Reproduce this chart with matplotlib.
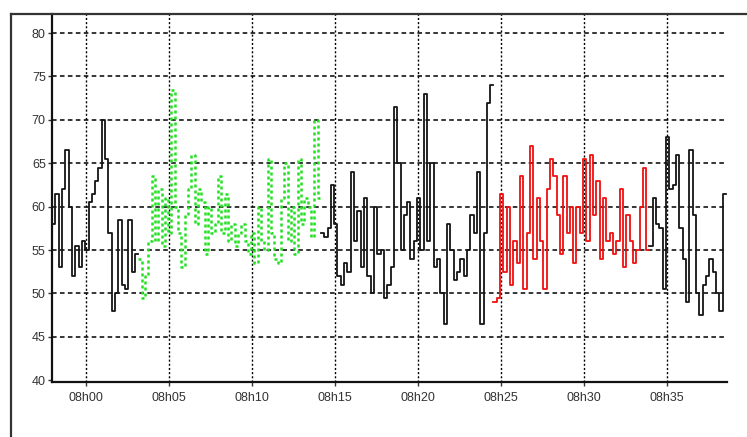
"""Recorded signal 07h58-08h38, three black stretches with a green and a red section."""

import matplotlib

matplotlib.use("Agg")
import matplotlib.pyplot as plt
import numpy as np
from matplotlib.lines import Line2D

# minutes after 08h00, values sampled every 0.2 min
STEP = 0.2

black1_start = -2.05
black1 = [58, 61.5, 53, 62, 66.5, 60, 52, 55.5, 53, 56, 55, 60.5, 61.5, 63,
          64.5, 70, 65.5, 57, 48, 50, 58.5, 51, 50.5, 58.5, 52.5, 54.5]

green_start = 3.15
green = [54, 49.5, 52, 56, 63.5, 56, 62, 55.5, 61, 57, 73.5, 60, 57, 53, 59,
         62, 66, 58, 62, 60.5, 54.5, 60, 57, 58, 63.5, 57, 61.5, 56, 58, 55.5,
         57, 58, 56, 54.5, 57, 53.5, 60, 56, 55, 65.5, 57, 54, 53.5, 61, 65,
         56, 60, 54.5, 65.5, 58, 61, 60, 56.5, 70, 61]

black2_start = 14.15
black2 = [57, 56.5, 57.5, 62.5, 58, 52, 51, 53.5, 52.5, 64, 56, 59.5, 53, 61,
          52, 50, 60, 54.5, 55, 49.5, 51, 53, 71.5, 65, 55, 59, 60.5, 54, 56,
          61, 55, 73, 56, 65, 53, 54, 50, 46.5, 58, 55, 51.5, 52.5, 54, 52,
          55, 59, 57, 64, 46.5, 57, 72, 74]

red_start = 24.55
red = [49, 49.5, 61.5, 52.5, 60, 51, 56, 53.5, 63.5, 50.5, 57, 67, 54, 61,
       56, 50.5, 62, 65.5, 63.5, 59, 54.5, 63.5, 57, 60, 53.5, 60, 57, 65.5,
       56, 66, 59, 63, 54, 61, 56, 57, 54.5, 56, 62, 53, 59, 56, 53.5, 55,
       60, 64.5, 55]

black3_start = 33.95
black3 = [55.5, 61, 58, 57.5, 50.5, 68, 62, 62.5, 66, 57.5, 54, 49, 66.5, 59,
          50, 47.5, 51, 52, 54, 52.5, 50, 48, 61.5]

tick_minutes = [0, 5, 10, 15, 20, 25, 30, 35]
tick_labels = ["08h00", "08h05", "08h10", "08h15", "08h20", "08h25", "08h30", "08h35"]
y_ticks = [40, 45, 50, 55, 60, 65, 70, 75, 80]

plt.rcParams["font.family"] = ["Liberation Sans", "DejaVu Sans"]

fig = plt.figure(figsize=(7.47, 4.37), dpi=100)
ax = fig.add_axes([52 / 747, 55 / 437, 675 / 747, 368 / 437])


def draw_segment(start, values, **style):
    t = start + STEP * np.arange(len(values) + 1)
    v = list(values) + [values[-1]]
    ax.step(t, v, where="post", **style)


draw_segment(black1_start, black1, color="#151515", lw=1.3)
draw_segment(green_start, green, color="#22e022", lw=1.8, ls=(0, (1.2, 1.2)))
draw_segment(black2_start, black2, color="#151515", lw=1.3)
draw_segment(red_start, red, color="#f01010", lw=1.3)
draw_segment(black3_start, black3, color="#151515", lw=1.3)

ax.set_xlim(-2.05, 38.62)
ax.set_ylim(39.8, 82.2)
ax.set_xticks(tick_minutes)
ax.set_xticklabels(tick_labels)
ax.set_yticks(y_ticks)

for y in y_ticks[1:]:
    ax.axhline(y, color="black", lw=1.1, ls=(0, (3, 2.2)), zorder=0)
for x in tick_minutes:
    ax.axvline(x, color="black", lw=1.0, ls=(0, (1.5, 1.5)), zorder=0)

ax.tick_params(axis="both", labelsize=9, colors="#333333", length=3, width=1, pad=1.5)
ax.tick_params(axis="x", pad=4)
for side in ("top", "right"):
    ax.spines[side].set_visible(False)
for side in ("left", "bottom"):
    ax.spines[side].set_linewidth(1.6)
    ax.spines[side].set_color("#111111")

# outer window frame
fig.add_artist(Line2D([11 / 747, 11 / 747], [0, 1 - 14 / 437], color="#333333", lw=1.6))
fig.add_artist(Line2D([11 / 747, 1], [1 - 14 / 437, 1 - 14 / 437], color="#333333", lw=1.6))

fig.savefig("out.png", dpi=100)
plt.close(fig)
